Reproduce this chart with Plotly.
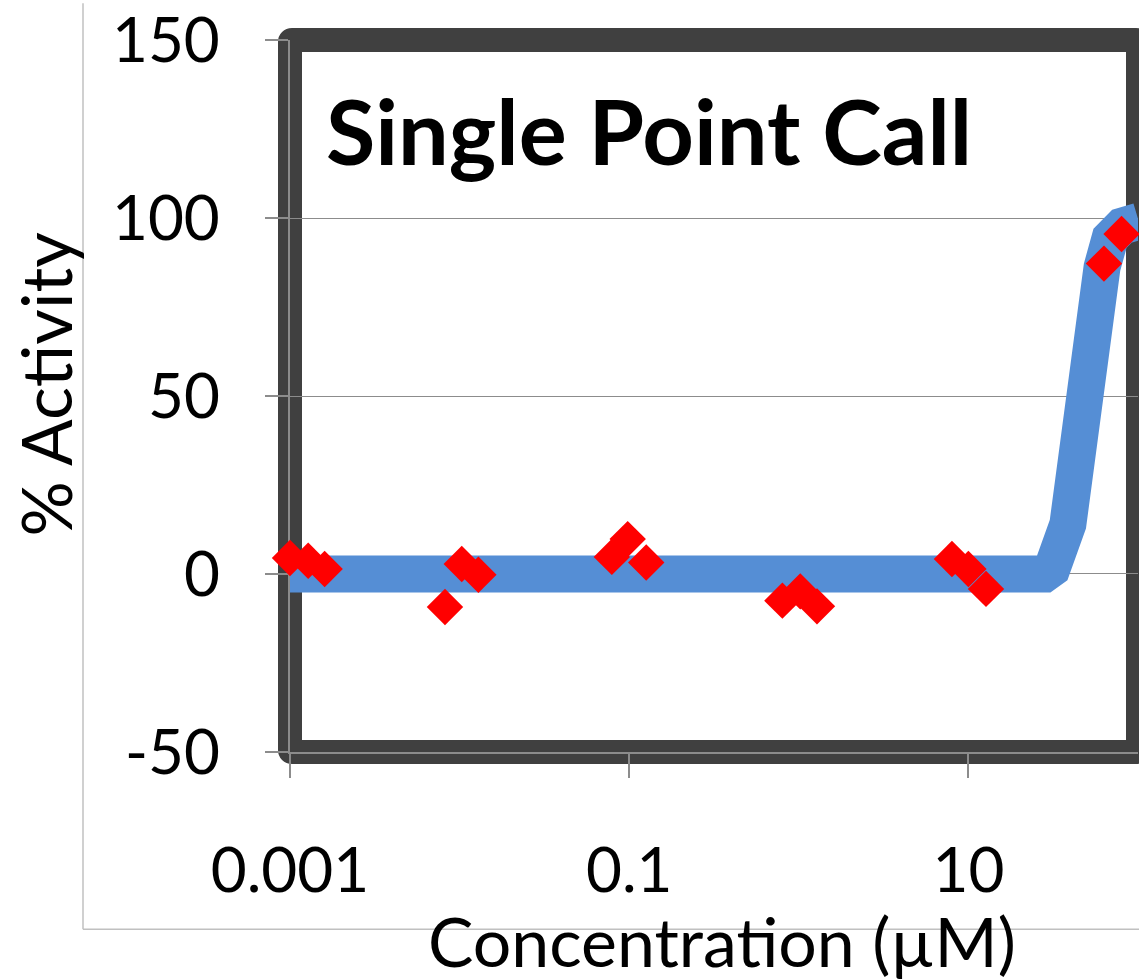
import plotly.graph_objects as go

# ---- data ----
conc = [0.001, 0.00128, 0.0016,
        0.0082, 0.0103, 0.0129,
        0.079, 0.098, 0.126,
        0.80, 1.02, 1.28,
        8.0, 10.0, 12.7,
        63.0, 80.0, 101.0]
activity = [4.5, 3.7, 1.4,
            -9.3, 2.8, -0.2,
            4.8, 9.8, 3.2,
            -7.5, -4.9, -9.1,
            4.2, 1.4, -4.2,
            87.2, 95.5, 90.0]

fit_conc = [0.001, 0.01, 0.1, 1.0, 10.0, 28.1, 31.1, 38.6, 61.4, 68.4, 80.5, 101.0]
fit_activity = [0.0, 0.0, 0.0, 0.0, 0.0, 0.0, 1.5, 14.0, 86.2, 94.3, 97.7, 99.1]

y_tickvals = [-50, 0, 50, 100, 150]
y_ticktext = ["-50", "0", "50", "100", "150"]
x_tickvals = [0.001, 0.1, 10]
x_ticktext = ["0.001", "0.1", "10"]

title_text = "Single Point Call"
x_title = "Concentration (µM)"
y_title = "% Activity"

# ---- layout geometry (pixels) ----
W, H = 1139, 980
L, R, T, B = 290, 1, 37, 228
PW, PH = W - L - R, H - T - B


def px2x(px):
    return (px - L) / PW


def py2y(py):
    return (H - B - py) / PH


FONT = "Lato"
GRID = "#8c8c8c"
LINE_W = 37

fig = go.Figure()

fig.add_trace(go.Scatter(
    x=fit_conc, y=fit_activity, mode="lines",
    line=dict(color="#558ED5", width=LINE_W, simplify=False),
    hoverinfo="skip", showlegend=False,
))
fig.add_trace(go.Scatter(
    x=conc, y=activity, mode="markers",
    marker=dict(symbol="diamond", size=28, color="#FF0000", line=dict(width=0)),
    cliponaxis=False, showlegend=False,
))

# thick dark plot-area frame with rounded outer corners
rx, ry = 2 / PW, 2 / PH
frame = (f"M 0,{ry} L 0,{1-ry} Q 0,1 {rx},1 L {1-rx},1 Q 1,1 1,{1-ry} "
         f"L 1,{ry} Q 1,0 {1-rx},0 L {rx},0 Q 0,0 0,{ry} Z")
shapes = [
    dict(type="path", xref="paper", yref="paper", path=frame,
         line=dict(color="#404040", width=24), layer="between"),
    # outer chart-area border (light gray)
    dict(type="line", xref="paper", yref="paper",
         x0=px2x(83), x1=px2x(83), y0=py2y(0), y1=py2y(930),
         line=dict(color="#C0C0C0", width=1.5), layer="below"),
    dict(type="line", xref="paper", yref="paper",
         x0=px2x(83), x1=px2x(1139), y0=py2y(930), y1=py2y(930),
         line=dict(color="#C0C0C0", width=1.5), layer="below"),
]

annotations = [
    dict(text=f"<b>{title_text}</b>", xref="paper", yref="paper",
         x=px2x(324), y=py2y(127), xanchor="left", yanchor="middle",
         showarrow=False, font=dict(family=FONT, size=90, color="black")),
    dict(text=y_title, xref="paper", yref="paper", textangle=-90,
         x=px2x(46), y=py2y(383), xanchor="center", yanchor="middle",
         showarrow=False, font=dict(family=FONT, size=69, color="black")),
    dict(text=x_title, xref="paper", yref="paper",
         x=px2x(722), y=py2y(941), xanchor="center", yanchor="middle",
         showarrow=False, font=dict(family=FONT, size=68, color="black")),
]

fig.update_layout(
    width=W, height=H,
    margin=dict(l=L, r=R, t=T, b=B, pad=0),
    paper_bgcolor="white", plot_bgcolor="white",
    shapes=shapes, annotations=annotations,
    showlegend=False,
    font=dict(family=FONT, color="black"),
)

fig.update_xaxes(
    type="log", range=[-3, 2],
    tickvals=x_tickvals, ticktext=x_ticktext,
    ticks="outside", ticklen=24, tickwidth=1.5, tickcolor=GRID,
    showline=True, linecolor=GRID, linewidth=1.5,
    showgrid=False, zeroline=False,
    tickfont=dict(family=FONT, size=62, color="black"),
    ticklabelstandoff=40,
    layer="below traces",
)
fig.update_yaxes(
    range=[-50.02, 150.02], tickvals=y_tickvals, ticktext=y_ticktext,
    ticks="outside", ticklen=23, tickwidth=1.5, tickcolor=GRID,
    showline=True, linecolor=GRID, linewidth=1.5,
    showgrid=True, gridcolor=GRID, gridwidth=1.3, zeroline=False,
    tickfont=dict(family=FONT, size=62, color="black"),
    ticklabelstandoff=33,
    ticklabeloverflow="allow",
    layer="below traces",
)

fig.write_html("out.html")
